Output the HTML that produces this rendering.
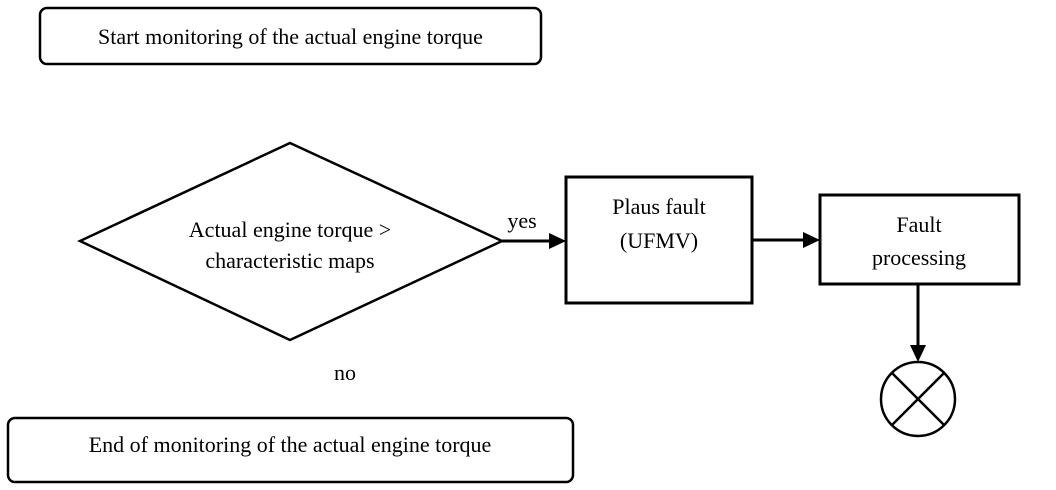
<!DOCTYPE html>
<html><head><meta charset="utf-8"><style>
html,body{margin:0;padding:0;background:#fff;width:1056px;height:490px;overflow:hidden}
svg text{font-family:"Liberation Serif",serif;font-size:22px;fill:#000}
</style></head><body>
<svg width="1056" height="490" viewBox="0 0 1056 490" xmlns="http://www.w3.org/2000/svg">
<rect x="40" y="8" width="501" height="56" rx="7" fill="none" stroke="#000" stroke-width="2.5"/>
<text x="290.5" y="44" text-anchor="middle">Start monitoring of the actual engine torque</text>
<polygon points="80,241 290,143 502,241 290,340" fill="none" stroke="#000" stroke-width="2.5"/>
<text x="290" y="237" text-anchor="middle">Actual engine torque &gt;</text>
<text x="290" y="268" text-anchor="middle">characteristic maps</text>
<line x1="502" y1="241" x2="552" y2="241" stroke="#000" stroke-width="3"/>
<polygon points="566,241 549,233 549,249" fill="#000"/>
<text x="522" y="228" text-anchor="middle">yes</text>
<rect x="566" y="177" width="186" height="126" fill="none" stroke="#000" stroke-width="3"/>
<text x="659" y="214" text-anchor="middle">Plaus fault</text>
<text x="659" y="248" text-anchor="middle">(UFMV)</text>
<line x1="752" y1="240" x2="806" y2="240" stroke="#000" stroke-width="3"/>
<polygon points="820,240 803,232 803,248" fill="#000"/>
<rect x="820" y="195" width="199" height="89" fill="none" stroke="#000" stroke-width="3"/>
<text x="919" y="232" text-anchor="middle">Fault</text>
<text x="919" y="265" text-anchor="middle">processing</text>
<line x1="918" y1="284" x2="918" y2="348" stroke="#000" stroke-width="3"/>
<polygon points="918,362 910,345 926,345" fill="#000"/>
<circle cx="918" cy="399" r="37" fill="none" stroke="#000" stroke-width="2.5"/>
<line x1="892" y1="373" x2="944" y2="425" stroke="#000" stroke-width="2.5"/>
<line x1="944" y1="373" x2="892" y2="425" stroke="#000" stroke-width="2.5"/>
<text x="345" y="380" text-anchor="middle">no</text>
<rect x="8" y="418" width="565" height="64" rx="7" fill="none" stroke="#000" stroke-width="2.5"/>
<text x="290" y="452" text-anchor="middle">End of monitoring of the actual engine torque</text>
</svg>
</body></html>
